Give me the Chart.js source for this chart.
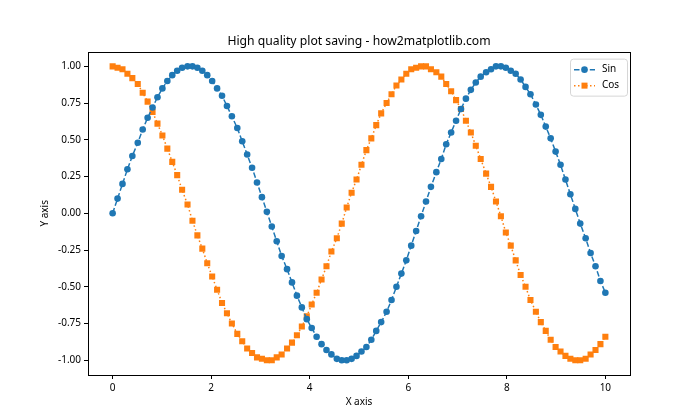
<!DOCTYPE html>
<html>
<head>
<meta charset="utf-8">
<script src="https://cdn.jsdelivr.net/npm/chart.js@4/dist/chart.umd.min.js"></script>
<style>
  html, body { margin: 0; padding: 0; background: #fff; }
  #wrap { width: 700px; height: 420px; }
</style>
</head>
<body>
<div id="wrap"><canvas id="waveChart" width="700" height="420"></canvas></div>
<script>
// values (100 samples between 0 and 10)
const xValues = [0.00, 0.10, 0.20, 0.30, 0.40, 0.51, 0.61, 0.71, 0.81, 0.91,
    1.01, 1.11, 1.21, 1.31, 1.41, 1.52, 1.62, 1.72, 1.82, 1.92,
    2.02, 2.12, 2.22, 2.32, 2.42, 2.53, 2.63, 2.73, 2.83, 2.93,
    3.03, 3.13, 3.23, 3.33, 3.43, 3.54, 3.64, 3.74, 3.84, 3.94,
    4.04, 4.14, 4.24, 4.34, 4.44, 4.55, 4.65, 4.75, 4.85, 4.95,
    5.05, 5.15, 5.25, 5.35, 5.45, 5.56, 5.66, 5.76, 5.86, 5.96,
    6.06, 6.16, 6.26, 6.36, 6.46, 6.57, 6.67, 6.77, 6.87, 6.97,
    7.07, 7.17, 7.27, 7.37, 7.47, 7.58, 7.68, 7.78, 7.88, 7.98,
    8.08, 8.18, 8.28, 8.38, 8.48, 8.59, 8.69, 8.79, 8.89, 8.99,
    9.09, 9.19, 9.29, 9.39, 9.49, 9.60, 9.70, 9.80, 9.90, 10.00];

const sinValues = [0.00, 0.10, 0.20, 0.30, 0.39, 0.48, 0.57, 0.65, 0.72, 0.79,
    0.85, 0.90, 0.94, 0.97, 0.99, 1.00, 1.00, 0.99, 0.97, 0.94,
    0.90, 0.85, 0.80, 0.73, 0.66, 0.58, 0.49, 0.40, 0.31, 0.21,
    0.11, 0.01, -0.09, -0.19, -0.29, -0.38, -0.47, -0.56, -0.64, -0.72,
    -0.78, -0.84, -0.89, -0.93, -0.96, -0.99, -1.00, -1.00, -0.99, -0.97,
    -0.94, -0.91, -0.86, -0.80, -0.74, -0.67, -0.59, -0.50, -0.41, -0.32,
    -0.22, -0.12, -0.02, 0.08, 0.18, 0.28, 0.37, 0.47, 0.55, 0.63,
    0.71, 0.78, 0.84, 0.89, 0.93, 0.96, 0.98, 1.00, 1.00, 0.99,
    0.97, 0.95, 0.91, 0.86, 0.81, 0.74, 0.67, 0.59, 0.51, 0.42,
    0.33, 0.23, 0.13, 0.03, -0.07, -0.17, -0.27, -0.36, -0.46, -0.54];

const cosValues = [1.00, 0.99, 0.98, 0.95, 0.92, 0.88, 0.82, 0.76, 0.69, 0.61,
    0.53, 0.44, 0.35, 0.26, 0.16, 0.06, -0.05, -0.15, -0.24, -0.34,
    -0.43, -0.52, -0.61, -0.68, -0.75, -0.82, -0.87, -0.92, -0.95, -0.98,
    -0.99, -1.00, -1.00, -0.98, -0.96, -0.92, -0.88, -0.83, -0.77, -0.70,
    -0.62, -0.54, -0.45, -0.36, -0.26, -0.17, -0.07, 0.04, 0.14, 0.23,
    0.33, 0.43, 0.51, 0.60, 0.68, 0.75, 0.81, 0.87, 0.91, 0.95,
    0.98, 0.99, 1.00, 1.00, 0.98, 0.96, 0.93, 0.88, 0.83, 0.77,
    0.71, 0.63, 0.55, 0.46, 0.37, 0.27, 0.18, 0.08, -0.02, -0.13,
    -0.22, -0.32, -0.42, -0.50, -0.59, -0.67, -0.74, -0.80, -0.86, -0.91,
    -0.94, -0.97, -0.99, -1.00, -1.00, -0.99, -0.96, -0.93, -0.89, -0.84];

const seriesNames = ['Sin', 'Cos'];
const xTicks = [0, 2, 4, 6, 8, 10];
const yTicks = [-1.00, -0.75, -0.50, -0.25, 0.00, 0.25, 0.50, 0.75, 1.00];

const blue = '#1f77b4';
const orange = '#ff7f0e';
const fontName = "'Noto Sans', 'DejaVu Sans', sans-serif";

function toPoints(ys) {
    return xValues.map((x, i) => ({ x: x, y: ys[i] }));
}

// black frame round the plot area, like the matplotlib spines
const framePlugin = {
    id: 'frame',
    afterDatasetsDraw(chart) {
        const a = chart.chartArea;
        const c = chart.ctx;
        c.save();
        c.strokeStyle = '#000';
        c.lineWidth = 1;
        c.strokeRect(Math.round(a.left) + 0.5, Math.round(a.top) + 0.5,
            Math.round(a.right - a.left), Math.round(a.bottom - a.top));
        c.restore();
    }
};

// legend box inside the upper right corner
const insideLegend = {
    id: 'insideLegend',
    afterDraw(chart) {
        const a = chart.chartArea;
        const c = chart.ctx;
        const w = 57, h = 37;
        const x0 = a.right - w - 3, y0 = a.top + 7;
        c.save();
        c.fillStyle = 'rgba(255,255,255,0.8)';
        c.strokeStyle = '#d6d6d6';
        c.lineWidth = 1;
        c.beginPath();
        c.roundRect(x0 + 0.5, y0 + 0.5, w, h, 3);
        c.fill();
        c.stroke();
        chart.data.datasets.forEach((ds, i) => {
            const cy = y0 + 11 + i * 16;
            c.strokeStyle = ds.borderColor;
            c.lineWidth = 1.5;
            c.setLineDash(ds.borderDash);
            c.beginPath();
            c.moveTo(x0 + 4, cy);
            c.lineTo(x0 + 25, cy);
            c.stroke();
            c.setLineDash([]);
            c.fillStyle = ds.pointBackgroundColor;
            if (ds.pointStyle === 'circle') {
                c.beginPath();
                c.arc(x0 + 14.5, cy, 3.3, 0, Math.PI * 2);
                c.fill();
            } else {
                c.fillRect(x0 + 11.5, cy - 3, 6, 6);
            }
            c.fillStyle = '#000';
            c.font = '10px ' + fontName;
            c.textBaseline = 'middle';
            c.fillText(seriesNames[i], x0 + 32, cy);
        });
        c.restore();
    }
};

const ctx = document.getElementById('waveChart').getContext('2d');
const waveChart = new Chart(ctx, {
    type: 'line',
    data: {
        datasets: [
            {
                label: seriesNames[0],
                data: toPoints(sinValues),
                borderColor: blue,
                backgroundColor: blue,
                pointBackgroundColor: blue,
                pointBorderWidth: 0,
                pointStyle: 'circle',
                pointRadius: 3.3,
                borderWidth: 1.5,
                borderDash: [5.5, 2.4],
                tension: 0
            },
            {
                label: seriesNames[1],
                data: toPoints(cosValues),
                borderColor: orange,
                backgroundColor: orange,
                pointBackgroundColor: orange,
                pointBorderWidth: 0,
                pointStyle: 'rect',
                pointRadius: 4.3,
                borderWidth: 1.5,
                borderDash: [1.5, 2.5],
                tension: 0
            }
        ]
    },
    options: {
        responsive: false,
        animation: false,
        events: [],
        layout: {
            padding: { left: 0, right: 70, top: 0, bottom: 0 }
        },
        plugins: {
            legend: { display: false },
            tooltip: { enabled: false },
            title: {
                display: true,
                fullSize: false,
                text: 'High quality plot saving - how2matplotlib.com',
                color: '#000',
                font: { family: fontName, size: 12.2, weight: 'normal' },
                padding: { top: 34, bottom: 3 }
            }
        },
        scales: {
            x: {
                type: 'linear',
                min: -0.5,
                max: 10.5,
                afterFit: (s) => { s.height = 45; },
                afterBuildTicks: (s) => { s.ticks = xTicks.map(v => ({ value: v })); },
                grid: { drawOnChartArea: false, color: '#000', tickLength: 4, tickWidth: 1 },
                border: { display: false },
                ticks: {
                    color: '#000',
                    padding: 3,
                    maxRotation: 0,
                    font: { family: fontName, size: 10 },
                    callback: (v) => String(v)
                },
                title: {
                    display: true,
                    text: 'X axis',
                    color: '#000',
                    font: { family: fontName, size: 10 },
                    padding: { top: 0, bottom: 12 }
                }
            },
            y: {
                type: 'linear',
                min: -1.1,
                max: 1.1,
                afterFit: (s) => { s.width = 88; },
                afterBuildTicks: (s) => { s.ticks = yTicks.map(v => ({ value: v })); },
                grid: { drawOnChartArea: false, color: '#000', tickLength: 4, tickWidth: 1 },
                border: { display: false },
                ticks: {
                    color: '#000',
                    padding: 3,
                    font: { family: fontName, size: 10 },
                    callback: (v) => Number(v).toFixed(2)
                },
                title: {
                    display: true,
                    text: 'Y axis',
                    color: '#000',
                    font: { family: fontName, size: 10 },
                    padding: { top: 39, bottom: 0 }
                }
            }
        }
    },
    plugins: [framePlugin, insideLegend]
});
</script>
</body>
</html>
